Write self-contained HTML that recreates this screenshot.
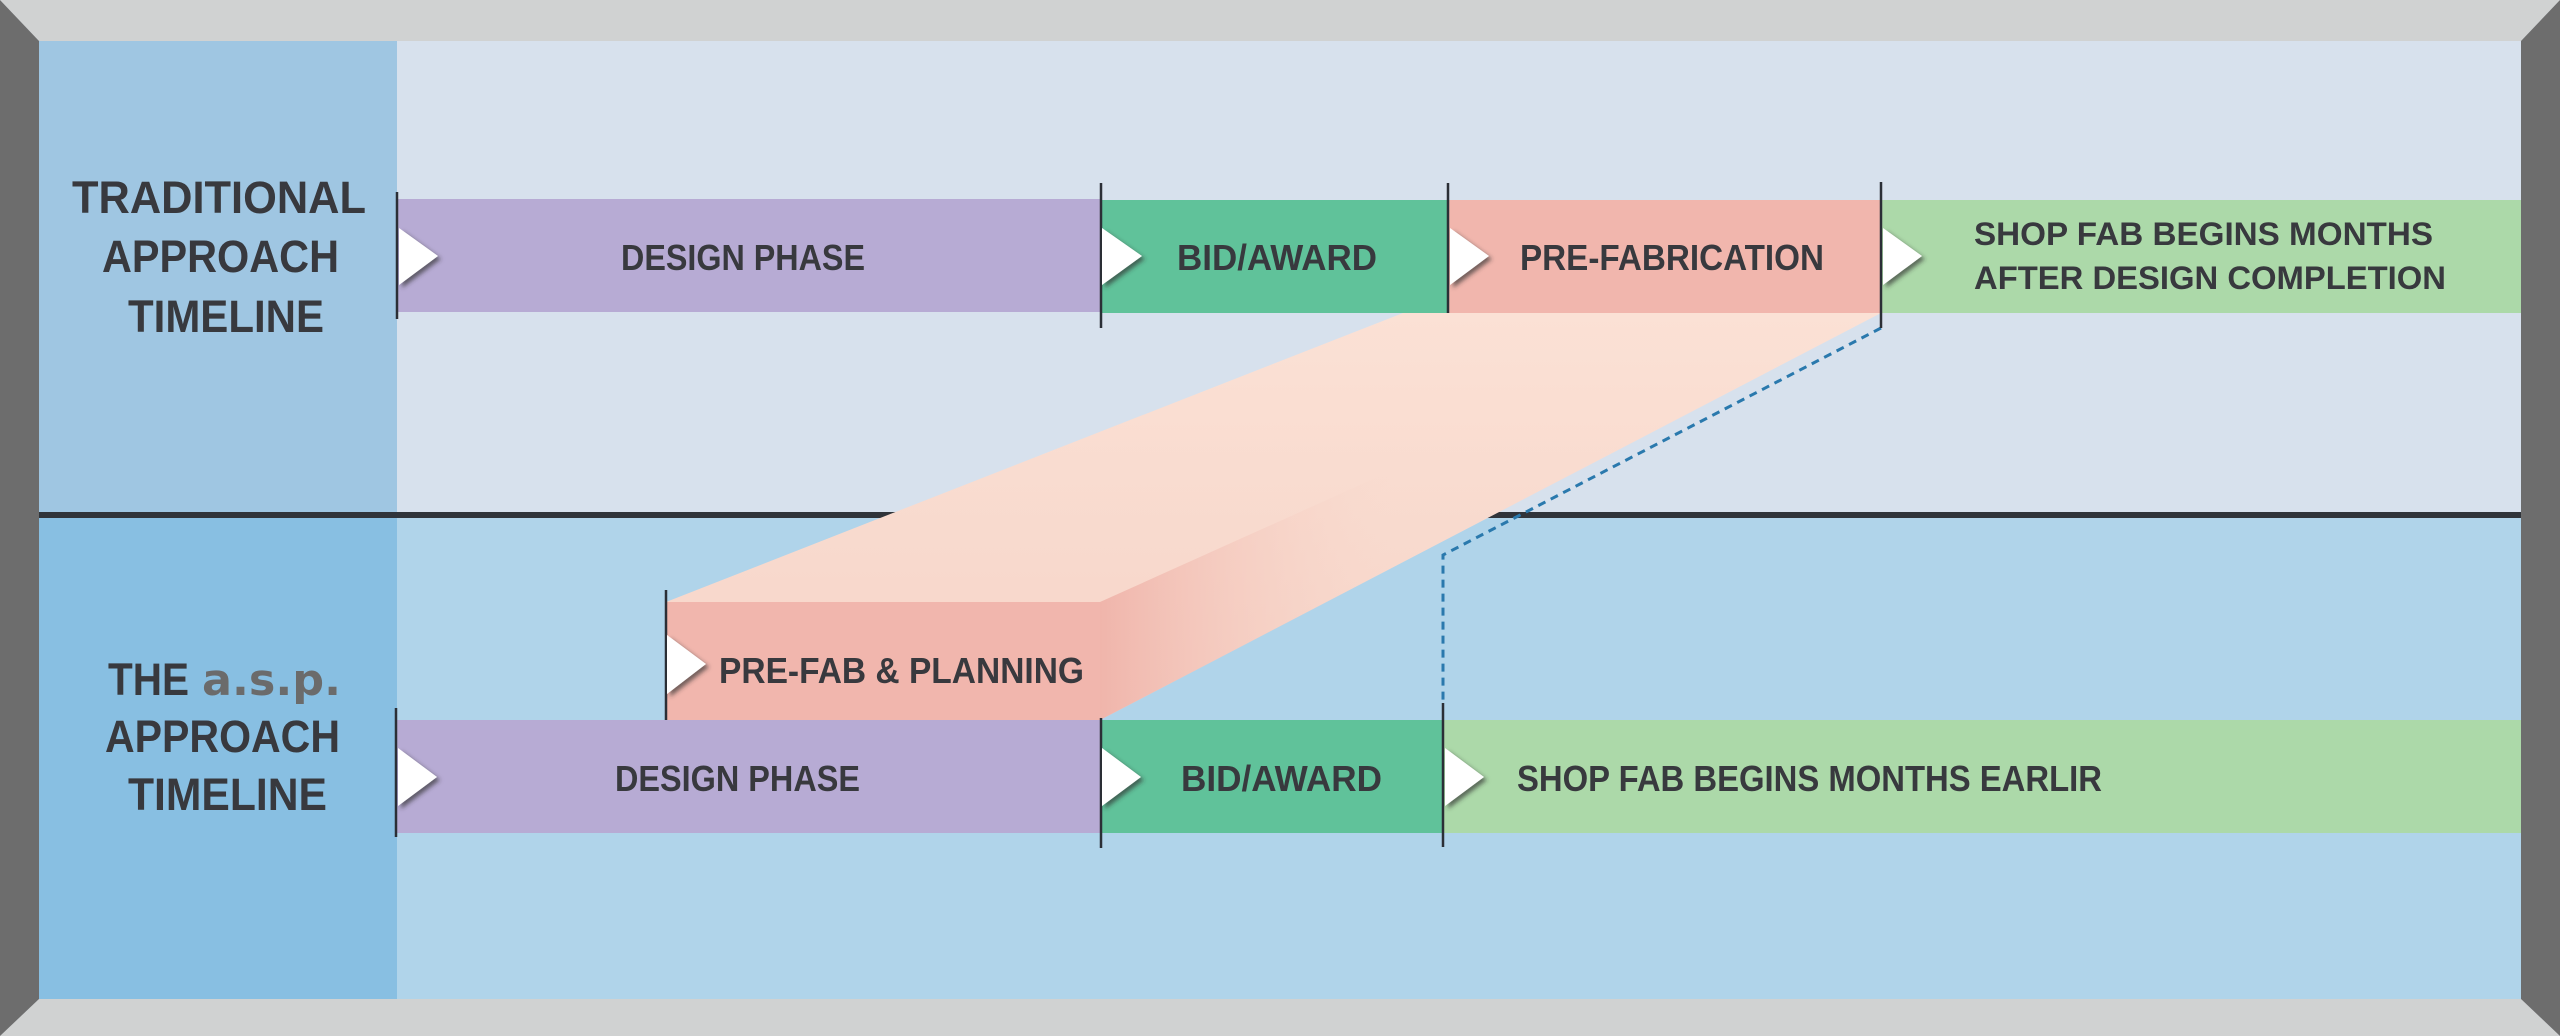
<!DOCTYPE html>
<html>
<head>
<meta charset="utf-8">
<style>
html,body{margin:0;padding:0;background:#d7e1ed;}
svg{display:block;}
text{font-family:"Liberation Sans","DejaVu Sans",sans-serif;font-weight:bold;fill:#38393e;}
</style>
</head>
<body>
<svg width="2560" height="1036" viewBox="0 0 2560 1036" xmlns="http://www.w3.org/2000/svg">
<defs>
  <filter id="sh" x="-50%" y="-50%" width="200%" height="200%">
    <feDropShadow dx="3" dy="3" stdDeviation="2.2" flood-color="#303030" flood-opacity="0.65"/>
  </filter>
  <linearGradient id="peach" x1="0" y1="313" x2="0" y2="720" gradientUnits="userSpaceOnUse">
    <stop offset="0" stop-color="#fbe1d5"/>
    <stop offset="1" stop-color="#f6d4c8"/>
  </linearGradient>
  <linearGradient id="side" x1="1100" y1="0" x2="1390" y2="0" gradientUnits="userSpaceOnUse">
    <stop offset="0" stop-color="#f0b5ab" stop-opacity="1"/>
    <stop offset="1" stop-color="#f7d6ca" stop-opacity="0"/>
  </linearGradient>
</defs>

<!-- backgrounds -->
<rect x="0" y="0" width="2560" height="1036" fill="#d7e1ed"/>
<rect x="39" y="41" width="358" height="474" fill="#9fc6e2"/>
<rect x="397" y="41" width="2124" height="474" fill="#d7e1ed"/>
<rect x="39" y="515" width="358" height="484" fill="#88bfe2"/>
<rect x="397" y="515" width="2124" height="484" fill="#b0d4ea"/>

<!-- divider -->
<rect x="39" y="512" width="2482" height="6" fill="#30343a"/>

<!-- frame -->
<polygon points="0,0 2560,0 2521,41 39,41" fill="#d0d2d2"/>
<polygon points="0,1036 39,999 2521,999 2560,1036" fill="#d0d2d2"/>
<polygon points="0,0 39,41 39,999 0,1036" fill="#6d6d6d"/>
<polygon points="2560,0 2521,41 2521,999 2560,1036" fill="#6d6d6d"/>

<!-- top row bars -->
<rect x="397" y="199" width="704" height="113" fill="#b7abd4"/>
<rect x="1101" y="200" width="347" height="113" fill="#60c29a"/>
<rect x="1448" y="200" width="433" height="113" fill="#f1b6ad"/>
<rect x="1881" y="200" width="640" height="113" fill="#acd9a9"/>

<!-- peach 3D projection -->
<polygon points="666,602 1403,313 1881,313 1100,720 666,720" fill="url(#peach)"/>
<polygon points="1100,602 1400,467 1400,564 1100,720" fill="url(#side)"/>

<!-- bottom row bars -->
<rect x="666" y="602" width="434" height="118" fill="#f1b6ad"/>
<rect x="397" y="720" width="704" height="113" fill="#b7abd4"/>
<rect x="1101" y="720" width="342" height="113" fill="#60c29a"/>
<rect x="1443" y="720" width="1078" height="113" fill="#acd9a9"/>

<!-- dashed connector -->
<polyline points="1881,328 1443,555 1443,703" fill="none" stroke="#2a79ad" stroke-width="3" stroke-dasharray="8 6"/>

<!-- vertical tick lines -->
<g stroke="#2b2f36" stroke-width="2.5">
  <line x1="397" y1="192" x2="397" y2="319"/>
  <line x1="1101" y1="183" x2="1101" y2="328"/>
  <line x1="1448" y1="183" x2="1448" y2="313"/>
  <line x1="1881" y1="182" x2="1881" y2="328"/>
  <line x1="396" y1="708" x2="396" y2="837"/>
  <line x1="1101" y1="718" x2="1101" y2="848"/>
  <line x1="1443" y1="703" x2="1443" y2="847"/>
  <line x1="666" y1="590" x2="666" y2="720"/>
</g>

<!-- white arrow triangles -->
<g fill="#ffffff" filter="url(#sh)">
  <polygon points="399,228 438,256 399,285"/>
  <polygon points="1102,228 1142,256 1102,285"/>
  <polygon points="1450,228 1489,256 1450,285"/>
  <polygon points="1883,228 1922,256 1883,285"/>
  <polygon points="667,635 706,664 667,694"/>
  <polygon points="398,748 437,777 398,806"/>
  <polygon points="1102,748 1141,777 1102,806"/>
  <polygon points="1445,748 1484,777 1445,806"/>
</g>

<!-- left column labels -->
<g font-size="45">
  <text x="72" y="213" textLength="294" lengthAdjust="spacingAndGlyphs">TRADITIONAL</text>
  <text x="102" y="272" textLength="237" lengthAdjust="spacingAndGlyphs">APPROACH</text>
  <text x="128" y="332" textLength="196" lengthAdjust="spacingAndGlyphs">TIMELINE</text>
  <text x="108" y="695" textLength="81" lengthAdjust="spacingAndGlyphs">THE</text>
  <text x="105" y="752" textLength="235" lengthAdjust="spacingAndGlyphs">APPROACH</text>
  <text x="128" y="810" textLength="199" lengthAdjust="spacingAndGlyphs">TIMELINE</text>
</g>
<text x="202" y="695" font-size="44" textLength="139" lengthAdjust="spacingAndGlyphs" style="fill:#6b6b6b;font-family:'DejaVu Sans','Liberation Sans',sans-serif;font-weight:bold;">a.s.p.</text>

<!-- bar labels -->
<g font-size="36">
  <text x="621" y="270" textLength="244" lengthAdjust="spacingAndGlyphs">DESIGN PHASE</text>
  <text x="1177" y="270" textLength="200" lengthAdjust="spacingAndGlyphs">BID/AWARD</text>
  <text x="1520" y="270" textLength="304" lengthAdjust="spacingAndGlyphs">PRE-FABRICATION</text>
  <text x="719" y="683" textLength="365" lengthAdjust="spacingAndGlyphs">PRE-FAB &amp; PLANNING</text>
  <text x="615" y="791" textLength="245" lengthAdjust="spacingAndGlyphs">DESIGN PHASE</text>
  <text x="1181" y="791" textLength="201" lengthAdjust="spacingAndGlyphs">BID/AWARD</text>
  <text x="1517" y="791" textLength="585" lengthAdjust="spacingAndGlyphs">SHOP FAB BEGINS MONTHS EARLIR</text>
</g>
<g font-size="32">
  <text x="1974" y="245" textLength="459" lengthAdjust="spacingAndGlyphs">SHOP FAB BEGINS MONTHS</text>
  <text x="1974" y="289" textLength="472" lengthAdjust="spacingAndGlyphs">AFTER DESIGN COMPLETION</text>
</g>
</svg>
</body>
</html>
